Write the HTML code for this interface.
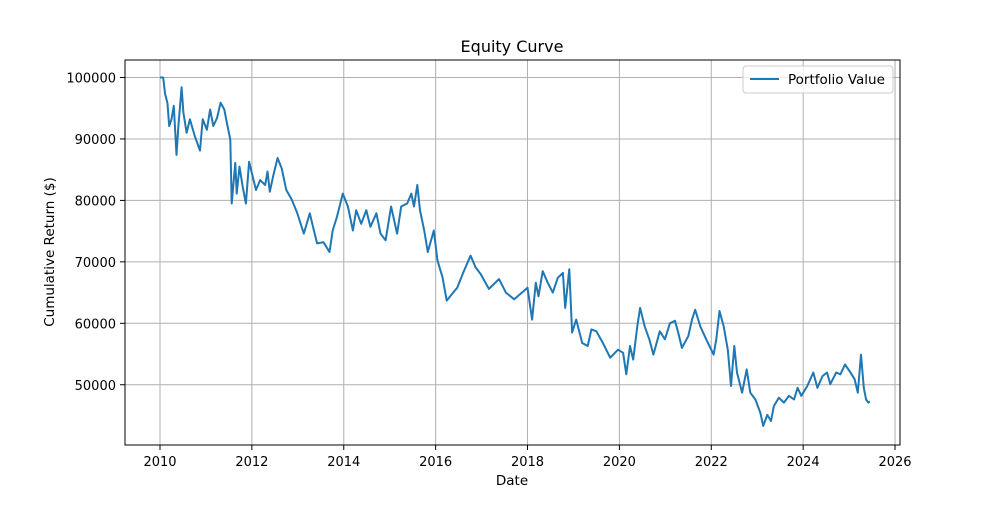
<!DOCTYPE html>
<html><head><meta charset="utf-8"><style>
html,body{margin:0;padding:0;background:#fff;}
svg text{font-family:"DejaVu Sans","Liberation Sans",sans-serif;fill:#000;}
</style></head><body>
<svg id="chart" width="1000" height="500" xmlns="http://www.w3.org/2000/svg">
<rect x="0" y="0" width="1000" height="500" fill="#fff"/>
<g id="grid"></g>
<g id="series"></g>
<rect x="125" y="60" width="775" height="385" fill="none" stroke="#000" stroke-width="1"/>
<g id="axes"></g>
<text x="512" y="52" font-size="16" text-anchor="middle">Equity Curve</text>
<text x="512" y="485" font-size="13.5" text-anchor="middle">Date</text>
<text x="54" y="252" font-size="13.5" text-anchor="middle" transform="rotate(-90 54 252)">Cumulative Return ($)</text>
<g>
<rect x="743" y="66" width="150" height="27" rx="3" fill="#fff" fill-opacity="0.8" stroke="#ccc"/>
<line x1="750" y1="79" x2="779" y2="79" stroke="#1f77b4" stroke-width="2"/>
<text x="788" y="84" font-size="13.5">Portfolio Value</text>
</g>
</svg>
<script>
const years=[2010,2010.07,2010.11,2010.16,2010.2,2010.25,2010.3,2010.36,2010.4,2010.47,2010.51,2010.58,2010.65,2010.76,2010.87,2010.93,2011.02,2011.09,2011.16,2011.24,2011.32,2011.4,2011.47,2011.53,2011.56,2011.64,2011.67,2011.73,2011.8,2011.87,2011.94,2012.0,2012.09,2012.18,2012.29,2012.34,2012.39,2012.47,2012.56,2012.65,2012.75,2012.87,2012.98,2013.13,2013.26,2013.35,2013.42,2013.56,2013.69,2013.76,2013.85,2013.98,2014.09,2014.2,2014.27,2014.38,2014.49,2014.58,2014.71,2014.8,2014.91,2015.03,2015.16,2015.25,2015.38,2015.47,2015.53,2015.6,2015.66,2015.75,2015.83,2015.96,2016.04,2016.15,2016.24,2016.36,2016.47,2016.62,2016.76,2016.87,2016.98,2017.16,2017.38,2017.53,2017.71,2017.85,2018.0,2018.1,2018.18,2018.24,2018.33,2018.44,2018.55,2018.66,2018.77,2018.82,2018.91,2018.97,2019.06,2019.19,2019.31,2019.39,2019.5,2019.64,2019.8,2019.97,2020.08,2020.15,2020.23,2020.3,2020.39,2020.45,2020.55,2020.65,2020.74,2020.88,2020.99,2021.1,2021.21,2021.28,2021.36,2021.5,2021.58,2021.65,2021.76,2021.89,2022.05,2022.11,2022.18,2022.27,2022.36,2022.43,2022.5,2022.56,2022.67,2022.77,2022.85,2022.96,2023.07,2023.13,2023.22,2023.3,2023.36,2023.47,2023.58,2023.69,2023.8,2023.88,2023.96,2024.09,2024.22,2024.31,2024.42,2024.52,2024.59,2024.72,2024.81,2024.91,2025.01,2025.12,2025.19,2025.26,2025.32,2025.37,2025.42,2025.45];
const values=[100000,100000,97300,95900,92100,93200,95400,87400,92100,98400,94300,91000,93200,90400,88100,93200,91500,94800,92100,93400,95900,94800,92100,89900,79500,86100,81100,85500,82200,79500,86300,84400,81700,83300,82500,84700,81400,84200,86900,85200,81700,80100,78100,74600,77900,75100,73000,73200,71600,75100,77300,81100,79000,75100,78400,76200,78400,75700,77900,74600,73500,79000,74600,79000,79500,81100,79000,82500,78400,75100,71600,75100,70200,67500,63700,64800,65800,68600,71000,69100,68000,65600,67200,65000,63900,64800,65800,60600,66600,64400,68500,66600,65000,67400,68200,62500,68800,58500,60600,56800,56300,59000,58700,56800,54400,55700,55200,51700,56300,54100,59500,62500,59500,57400,54900,58700,57400,60000,60400,58500,56000,57900,60600,62200,59500,57400,54900,57400,62000,59500,55700,49800,56300,52000,48700,52500,48700,47600,45400,43300,45100,44100,46500,47900,47100,48200,47600,49500,48200,49800,52000,49500,51400,52000,50100,52000,51700,53300,52200,50900,48700,54900,49500,47600,47100,47300];
const xTicks=[2010,2012,2014,2016,2018,2020,2022,2024,2026];
const yTicks=[50000,60000,70000,80000,90000,100000];
const NS="http://www.w3.org/2000/svg";
function xs(y){return 160+(y-2010)*45.94;}
function ys(v){return 77.5+(100000-v)*0.006145;}
const grid=document.getElementById('grid'),axes=document.getElementById('axes'),ser=document.getElementById('series');
function mk(tag,attrs,parent){const e=document.createElementNS(NS,tag);for(const k in attrs)e.setAttribute(k,attrs[k]);parent.appendChild(e);return e;}
xTicks.forEach(t=>{const x=xs(t);
const g=mk('line',{x1:x,y1:60,x2:x,y2:445,stroke:'#b0b0b0','stroke-width':1},grid);


const tk=mk('line',{x1:x,y1:445,x2:x,y2:450,stroke:'#000'},axes);


const tx=mk('text',{x:x,y:466,'font-size':13,'text-anchor':'middle'},axes);tx.textContent=t;

});
yTicks.forEach(t=>{const y=ys(t);
const g=mk('line',{x1:125,y1:y,x2:900,y2:y,stroke:'#b0b0b0','stroke-width':1},grid);


const tk=mk('line',{x1:120,y1:y,x2:125,y2:y,stroke:'#000'},axes);


const tx=mk('text',{x:116,y:y+5,'font-size':13,'text-anchor':'end'},axes);tx.textContent=t;

});
const d=years.map((y,i)=>(i?'L':'M')+xs(y).toFixed(1)+','+ys(values[i]).toFixed(1)).join(' ');
const p=mk('path',{d:d,fill:'none',stroke:'#1f77b4','stroke-width':2,'stroke-linejoin':'round'},ser);


</script>
</body></html>
